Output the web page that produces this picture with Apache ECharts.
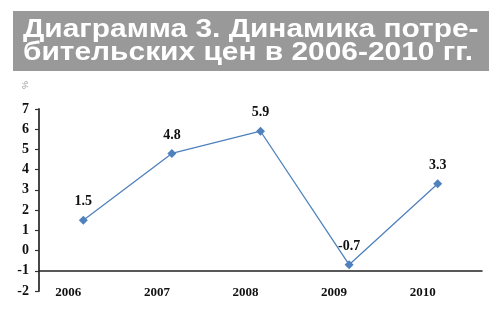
<!DOCTYPE html>
<html>
<head>
<meta charset="utf-8">
<script src="https://cdn.jsdelivr.net/npm/echarts@6/dist/echarts.min.js"></script>
<style>html,body{margin:0;padding:0;background:#fff}#c{width:500px;height:316px}</style>
</head>
<body>
<div id="c"></div>
<script>
const titleLines = ['Диаграмма 3. Динамика потре-', 'бительских цен в 2006-2010 гг.'];
const unitLabel = '%';
const categories = ['2006', '2007', '2008', '2009', '2010'];
const values = [1.5, 4.8, 5.9, -0.7, 3.3];
const yMin = -2, yMax = 7, yStep = 1;

const chart = echarts.init(document.getElementById('c'), null, {renderer: 'canvas'});
const serif = '"Liberation Serif", "Times New Roman", serif';
const gridTop = 109, gridBottom = 25;
const unitPx = (316 - gridTop - gridBottom) / (yMax - yMin);
chart.setOption({
  animation: false,
  backgroundColor: '#fff',
  graphic: [
    {type: 'rect', shape: {x: 13, y: 11, width: 476, height: 60}, style: {fill: '#999999'}, z: 1},
    {type: 'text', x: 23, y: 18, scaleX: 1.15, z: 2, style: {
      text: titleLines.join('\n'), fill: '#fff',
      font: 'bold 26px "Liberation Sans", Arial, sans-serif', lineHeight: 23
    }},
    {type: 'text', x: 29, y: 81, rotation: -Math.PI / 2, z: 2, style: {
      text: unitLabel, fill: '#999', font: '9px "Liberation Sans", Arial, sans-serif'
    }}
  ],
  grid: {left: 39, right: 18, top: gridTop, bottom: gridBottom},
  xAxis: {
    type: 'category', data: categories, boundaryGap: true,
    position: 'bottom', offset: -unitPx,
    axisLine: {onZero: false, lineStyle: {color: '#222', width: 1.5}},
    axisTick: {inside: true, length: 5, lineStyle: {color: '#222', width: 1.2}},
    axisLabel: {color: '#111', fontFamily: serif, fontWeight: 'bold', fontSize: 13, margin: 15, padding: [0, 30, 0, 0]},
    splitLine: {show: false}
  },
  yAxis: {
    type: 'value', min: yMin, max: yMax, interval: yStep,
    axisLine: {show: true, lineStyle: {color: '#333', width: 1.8}},
    axisTick: {show: true, inside: false, length: 4, lineStyle: {color: '#333', width: 1.2}},
    axisLabel: {color: '#111', fontFamily: serif, fontWeight: 'bold', fontSize: 14, margin: 10},
    splitLine: {show: false}
  },
  series: [{
    type: 'line', data: values,
    symbol: 'diamond', symbolSize: 9,
    lineStyle: {color: '#4f81bd', width: 1.3},
    itemStyle: {color: '#4f81bd'},
    label: {show: true, position: 'top', distance: 7, color: '#111', fontFamily: serif, fontWeight: 'bold', fontSize: 14}
  }]
});
</script>
</body>
</html>
